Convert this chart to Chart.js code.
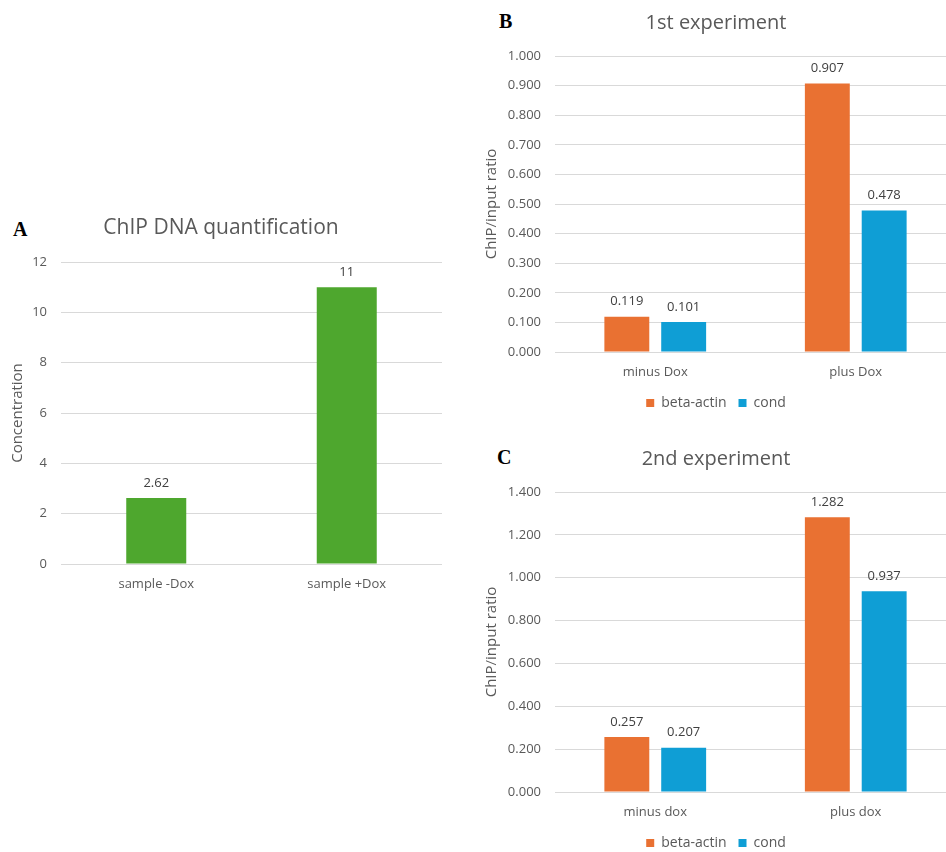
<!DOCTYPE html>
<html>
<head>
<meta charset="utf-8">
<title>ChIP results</title>
<script src="https://cdn.jsdelivr.net/npm/chart.js@4/dist/chart.umd.min.js"></script>
<style>
  html, body { margin: 0; padding: 0; background: #ffffff; }
  body { width: 946px; height: 852px; position: relative; overflow: hidden; }
  .panel { position: absolute; }
  .tag {
    position: absolute;
    font-family: "Liberation Serif", "DejaVu Serif", serif;
    font-weight: bold;
    font-size: 20px;
    line-height: 20px;
    color: #000000;
  }
</style>
</head>
<body>
<div class="tag" style="left:13px; top:219px;">A</div>
<div class="tag" style="left:499px; top:11px;">B</div>
<div class="tag" style="left:497px; top:447px;">C</div>

<div class="panel" style="left:0px; top:205px; width:460px; height:395px;"><canvas id="chartA"></canvas></div>
<div class="panel" style="left:476px; top:0px; width:480px; height:420px;"><canvas id="chartB"></canvas></div>
<div class="panel" style="left:476px; top:436px; width:480px; height:424px;"><canvas id="chartC"></canvas></div>

<script>
// ---- data ----
const quantCategories = ["sample -Dox", "sample +Dox"];
const quantValues = [2.62, 11];
const quantTicks = [0, 12, 2];          // min, max, step

const exp1Categories = ["minus Dox", "plus Dox"];
const exp1BetaActin = [0.119, 0.907];
const exp1Cond = [0.101, 0.478];
const exp1Ticks = [0, 1.0, 0.1];

const exp2Categories = ["minus dox", "plus dox"];
const exp2BetaActin = [0.257, 1.282];
const exp2Cond = [0.207, 0.937];
const exp2Ticks = [0, 1.4, 0.2];

// ---- styling ----
const FONT = '"Open Sans", "Liberation Sans", sans-serif';
const GREY = '#595959';
const LABEL_GREY = '#404040';
const GRID = '#d9d9d9';
const ORANGE = '#e97132';
const BLUE = '#0f9ed5';
const GREEN = '#4ea72e';

// draws each bar's value just above it
const valueLabels = {
  id: 'valueLabels',
  afterDatasetsDraw(chart, args, opts) {
    const ctx = chart.ctx;
    ctx.save();
    ctx.font = '13px ' + FONT;
    ctx.fillStyle = LABEL_GREY;
    ctx.textAlign = 'center';
    ctx.textBaseline = 'middle';
    chart.data.datasets.forEach((ds, i) => {
      const meta = chart.getDatasetMeta(i);
      meta.data.forEach((bar, j) => {
        ctx.fillText(opts.format(ds.data[j]), bar.x, bar.y - 15);
      });
    });
    ctx.restore();
  }
};

function yScale(ticks, fmt, axisWidth, titlePad) {
  return {
    min: ticks[0], max: ticks[1],
    afterFit(scale) { scale.width = axisWidth; },
    grid: { color: GRID, lineWidth: 1, drawTicks: false },
    border: { display: false },
    ticks: { stepSize: ticks[2], padding: 14, color: GREY, font: { family: FONT, size: 13 }, callback: fmt },
    title: { display: true, color: GREY, font: { family: FONT, size: 15 }, padding: { top: titlePad, bottom: 0 } }
  };
}

function xScale(axisHeight, pad) {
  return {
    afterFit(scale) { scale.height = axisHeight; },
    grid: { display: false, drawTicks: false },
    border: { display: false },
    ticks: { padding: pad, color: GREY, font: { family: FONT, size: 13 } }
  };
}

function titleOpts(text, size) {
  return {
    display: true, text: text, color: GREY,
    font: { family: FONT, size: size, weight: 'normal' },
    padding: { top: 11, bottom: 21 }
  };
}

// A: DNA concentration
const yA = yScale(quantTicks, v => String(v), 61, 9);
yA.title.text = 'Concentration';
const titleA = titleOpts('ChIP DNA quantification', 21);
titleA.padding = { top: 10, bottom: 21.8 };
new Chart(document.getElementById('chartA'), {
  type: 'bar',
  data: {
    labels: quantCategories,
    datasets: [{ label: 'Concentration', data: quantValues, backgroundColor: GREEN,
                 barPercentage: 0.315, categoryPercentage: 1 }]
  },
  options: {
    responsive: true, maintainAspectRatio: false, animation: false,
    layout: { padding: { left: 0, right: 18, top: 0, bottom: 0 } },
    plugins: {
      legend: { display: false },
      tooltip: { enabled: false },
      title: titleA,
      valueLabels: { format: v => String(v) }
    },
    scales: { x: xScale(36, 12), y: yA }
  },
  plugins: [valueLabels]
});

// B and C: ChIP/input ratio per condition
function experimentChart(id, title, categories, beta, cond, ticks) {
  const y = yScale(ticks, v => Number(v).toFixed(3), 79, 7);
  y.title.text = 'ChIP/input ratio';
  return new Chart(document.getElementById(id), {
    type: 'bar',
    data: {
      labels: categories,
      datasets: [
        { label: 'beta-actin', data: beta, backgroundColor: ORANGE, barPercentage: 0.79, categoryPercentage: 0.567 },
        { label: 'cond', data: cond, backgroundColor: BLUE, barPercentage: 0.79, categoryPercentage: 0.567 }
      ]
    },
    options: {
      responsive: true, maintainAspectRatio: false, animation: false,
      layout: { padding: 0 },
      plugins: {
        legend: {
          position: 'bottom',
          labels: { boxWidth: 8, boxHeight: 8, padding: 12, color: GREY, font: { family: FONT, size: 14 } }
        },
        tooltip: { enabled: false },
        title: titleOpts(title, 20),
        valueLabels: { format: v => Number(v).toFixed(3) }
      },
      scales: { x: xScale(32, 12), y: y }
    },
    plugins: [valueLabels]
  });
}

experimentChart('chartB', '1st experiment', exp1Categories, exp1BetaActin, exp1Cond, exp1Ticks);
experimentChart('chartC', '2nd experiment', exp2Categories, exp2BetaActin, exp2Cond, exp2Ticks);
</script>
</body>
</html>
